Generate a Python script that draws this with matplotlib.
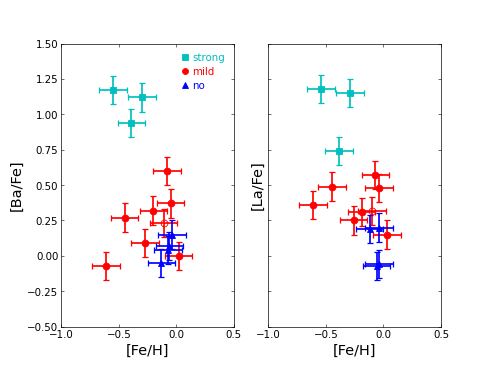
import matplotlib
matplotlib.use("Agg")
import numpy as np
import matplotlib.pyplot as plt
from matplotlib.lines import Line2D

# metallicity and abundances
strong_feh = [-0.55, -0.30, -0.39]
strong_ba = [1.17, 1.12, 0.94]
strong_feh_la = [-0.545, -0.29, -0.385]
strong_la = [1.18, 1.15, 0.74]

mild_feh = [-0.08, -0.05, -0.20, -0.45, -0.27, -0.61, 0.02]
mild_ba = [0.60, 0.37, 0.32, 0.27, 0.09, -0.07, 0.00]
mild_feh_la = [-0.07, -0.04, -0.445, -0.61, -0.19, -0.26, 0.03]
mild_la = [0.57, 0.48, 0.49, 0.36, 0.31, 0.25, 0.15]

open_feh = [-0.11]
open_ba = [0.23]
open_feh_la = [-0.10]
open_la = [0.315]

no_feh = [-0.04, -0.06, -0.07, -0.13]
no_ba = [0.15, 0.07, 0.04, -0.05]
no_feh_la = [-0.12, -0.04, -0.06, -0.04]
no_la = [0.19, 0.20, -0.07, -0.06]

xerr = 0.12
yerr = 0.10

xticks = [-1.0, -0.5, 0.0, 0.5]
yticks = [-0.50, -0.25, 0.00, 0.25, 0.50, 0.75, 1.00, 1.25, 1.50]

groups = ["strong", "mild", "no"]
colors = ["c", "r", "b"]
markers = ["s", "o", "^"]

fig, axes = plt.subplots(1, 2, sharey=True, figsize=(8, 6), dpi=61.25)

panels = [
    (strong_feh, strong_ba, mild_feh, mild_ba, open_feh, open_ba, no_feh, no_ba, "[Ba/Fe]"),
    (strong_feh_la, strong_la, mild_feh_la, mild_la, open_feh_la, open_la, no_feh_la, no_la, "[La/Fe]"),
]

style = dict(xerr=xerr, yerr=yerr, linestyle="none", markersize=8,
             elinewidth=2, capsize=3.5, capthick=1.5)

for i, (ax, p) in enumerate(zip(axes, panels)):
    sx, sy, mx, my, ox, oy, nx, ny, lab = p

    ax.errorbar(sx, sy, fmt="s", color="c", mec="c", **style)
    ax.errorbar(mx, my, fmt="o", color="r", mec="r", **style)
    ax.errorbar(ox, oy, fmt="o", color="r", mec="r", mfc="none", **style)
    ax.errorbar(nx, ny, fmt="^", color="b", mec="b", **style)

    ax.set_xlim(-1.0, 0.5)
    ax.set_ylim(-0.5, 1.5)
    ax.set_xticks(xticks)
    ax.set_yticks(yticks)
    ax.set_xlabel("[Fe/H]", fontsize=17)
    ax.set_ylabel(lab, fontsize=17)
    ax.tick_params(direction="in", top=True, right=True, length=4,
                   width=1, labelsize=12, colors="0.35", labelcolor="black")

    if i == 0:
        handles = [Line2D([], [], linestyle="none", marker=m, color=c,
                          markersize=7) for m, c in zip(markers, colors)]
        leg = ax.legend(handles, groups, loc="upper right", frameon=False,
                        fontsize=12, handlelength=0.4, handletextpad=0.5,
                        borderaxespad=0.5, labelspacing=0.4)
        for txt, c in zip(leg.get_texts(), colors):
            txt.set_color(c)
    else:
        ax.tick_params(labelleft=False)

fig.savefig("out.png", dpi=61.25)
